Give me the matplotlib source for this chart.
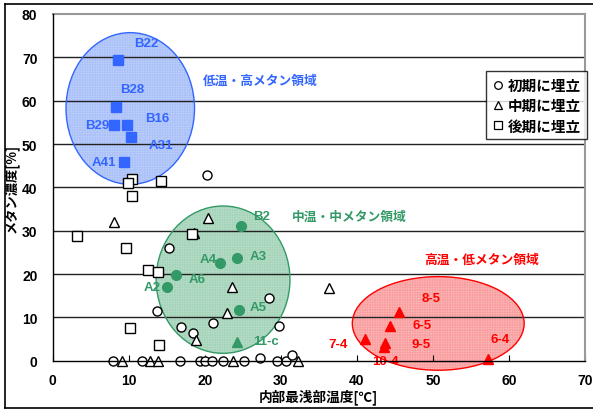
import matplotlib
matplotlib.use("Agg")
import matplotlib.pyplot as plt
from matplotlib.patches import Ellipse
from matplotlib.lines import Line2D

# ---------------- data ----------------
early_x = [20.3, 15.3, 28.5, 13.7, 21.1, 29.8, 16.9, 18.4, 7.9, 11.7, 16.8, 19.4, 20.0, 20.9, 22.4, 25.1, 27.2, 29.5, 30.7, 31.5]
early_y = [42.8, 26.1, 14.4, 11.4, 8.7, 8.1, 7.7, 6.5, 0, 0, 0, 0, 0, 0, 0, 0, 0.6, 0, 0, 1.3]

mid_x = [8.1, 20.4, 18.6, 23.6, 36.3, 22.9, 18.8, 9.1, 12.8, 13.9, 23.7, 32.3]
mid_y = [32.0, 33.0, 29.4, 17.1, 16.7, 10.9, 4.8, 0, 0, 0, 0, 0]

late_x = [10.4, 9.9, 14.3, 10.4, 3.2, 9.6, 18.3, 12.5, 13.9, 10.2, 14.0]
late_y = [41.9, 40.9, 41.5, 38.0, 28.8, 26.1, 29.2, 20.9, 20.4, 7.5, 3.7]

blue_names = ["B22", "B28", "B29", "B16", "A31", "A41"]
blue_x = [8.6, 8.3, 8.1, 9.8, 10.3, 9.4]
blue_y = [69.3, 58.6, 54.5, 54.4, 51.6, 45.9]

green_names = ["B2", "A3", "A4", "A6", "A2", "A5"]
green_x = [24.7, 24.2, 22.0, 16.2, 15.0, 24.5]
green_y = [31.1, 23.7, 22.5, 19.7, 16.9, 11.8]

green_tri_names = ["11-c"]
green_tri_x = [24.3]
green_tri_y = [4.2]

red_names = ["8-5", "6-5", "7-4", "9-5", "10-4", "6-4"]
red_x = [45.5, 44.4, 41.1, 43.7, 43.6, 57.2]
red_y = [11.3, 8.1, 5.0, 4.1, 3.1, 0.5]

legend_labels = ["初期に埋立", "中期に埋立", "後期に埋立"]
region_labels = ["低温・高メタン領域", "中温・中メタン領域", "高温・低メタン領域"]
x_ticks = [0, 10, 20, 30, 40, 50, 60, 70]
y_ticks = [0, 10, 20, 30, 40, 50, 60, 70, 80]
x_label = "内部最浅部温度[℃]"
y_label = "メタン濃度[%]"

# label anchor positions (data coords), text centred
blue_lbl = [(12.3, 73.4), (10.5, 62.6), (5.8, 54.3), (13.7, 55.9), (14.2, 49.7), (6.8, 45.9)]
green_lbl = [(27.5, 33.4), (27.0, 24.2), (20.4, 23.4), (19.0, 18.8), (13.1, 17.1), (27.0, 12.4)]
green_tri_lbl = [(28.1, 4.6)]
red_lbl = [(49.8, 14.4), (48.6, 8.2), (37.5, 3.8), (48.5, 3.8), (43.7, 0.0), (58.8, 5.0)]
region_pos = [(19.8, 64.7, "left"), (31.5, 33.4, "left"), (56.4, 23.3, "center")]

# ellipses: (cx, cy, w, h)
ell_blue = (10.2, 58.2, 16.9, 35.0)
ell_green = (22.4, 18.7, 17.6, 34.0)
ell_red = (50.7, 8.6, 22.6, 21.6)

BLUE = "#3366ff"
GREEN = "#339966"
RED = "#ff0000"

LAT = ["Liberation Sans", "Noto Sans CJK JP", "DejaVu Sans"]
JP = ["Noto Sans CJK JP", "DejaVu Sans"]

plt.rcParams["hatch.linewidth"] = 0.5

fig = plt.figure(figsize=(5.93, 4.14), dpi=100)
ax = fig.add_axes([52.7 / 593, 1 - 361.7 / 414, (585 - 52.7) / 593, (361.7 - 15) / 414])
ax.set_xlim(0, 70)
ax.set_ylim(0, 80)

# gridlines
for yv in y_ticks[1:-1]:
    ax.axhline(yv, color="#222222", lw=1.0, zorder=1.5)

# ellipses
def draw_ell(e, edge, face):
    cx, cy, w, h = e
    ax.add_patch(Ellipse((cx, cy), w, h, facecolor=face, edgecolor="none", zorder=1, clip_on=False))
    ax.add_patch(Ellipse((cx, cy), w, h, facecolor="none", edgecolor=edge, hatch="++++++++++",
                         lw=0, alpha=0.18, zorder=1.1, clip_on=False))
    ax.add_patch(Ellipse((cx, cy), w, h, facecolor="none", edgecolor=edge, lw=1.0, zorder=1.6, clip_on=False))

draw_ell(ell_blue, BLUE, "#c6d6f9")
draw_ell(ell_green, GREEN, "#c0e2ce")
draw_ell(ell_red, RED, "#fac3c3")

# open markers
ax.plot(early_x, early_y, ls="none", marker="o", ms=6.5, mfc="white", mec="black", mew=1.0, zorder=3, clip_on=False)
ax.plot(mid_x, mid_y, ls="none", marker="^", ms=7, mfc="white", mec="black", mew=1.0, zorder=3, clip_on=False)
ax.plot(late_x, late_y, ls="none", marker="s", ms=6.5, mfc="white", mec="black", mew=1.0, zorder=3, clip_on=False)

# filled markers
ax.plot(blue_x, blue_y, ls="none", marker="s", ms=7, mfc=BLUE, mec=BLUE, zorder=4)
ax.plot(green_x, green_y, ls="none", marker="o", ms=7, mfc=GREEN, mec=GREEN, zorder=4)
ax.plot(green_tri_x, green_tri_y, ls="none", marker="^", ms=7.5, mfc=GREEN, mec=GREEN, zorder=4)
ax.plot(red_x, red_y, ls="none", marker="^", ms=7.5, mfc=RED, mec=RED, zorder=4, clip_on=False)

lbl_kw = dict(fontsize=9.5, fontweight="bold", family=LAT, ha="center", va="center", zorder=5)
for n, (lx, ly) in zip(blue_names, blue_lbl):
    ax.text(lx, ly, n, color=BLUE, **lbl_kw)
for n, (lx, ly) in zip(green_names, green_lbl):
    ax.text(lx, ly, n, color=GREEN, **lbl_kw)
for n, (lx, ly) in zip(green_tri_names, green_tri_lbl):
    ax.text(lx, ly, n, color=GREEN, **lbl_kw)
for n, (lx, ly) in zip(red_names, red_lbl):
    ax.text(lx, ly, n, color=RED, clip_on=False, **lbl_kw)

for txt, (rx, ry, ha), c in zip(region_labels, region_pos, [BLUE, GREEN, RED]):
    ax.text(rx, ry, txt, color=c, fontsize=9.2, fontweight="bold", family=JP, ha=ha, va="center", zorder=5)

# axes styling
ax.set_xticks(x_ticks)
ax.set_yticks(y_ticks)
ax.tick_params(axis="x", direction="in", length=4, width=0.8, pad=9, labelsize=10)
ax.tick_params(axis="y", length=0, pad=11, labelsize=10)
for lab in ax.get_xticklabels() + ax.get_yticklabels():
    lab.set_fontfamily(LAT)
    lab.set_fontweight("bold")
for s in ["left", "bottom"]:
    ax.spines[s].set_color("black")
    ax.spines[s].set_linewidth(1.0)
for s in ["top", "right"]:
    ax.spines[s].set_color("#999999")
    ax.spines[s].set_linewidth(1.5)
ax.spines["left"].set_zorder(6)
ax.spines["bottom"].set_zorder(6)

ax.set_xlabel(x_label, fontsize=9.8, fontweight="bold", family=JP, labelpad=1)
ax.set_ylabel(y_label, fontsize=9.5, fontweight="bold", family=JP, labelpad=2)

# legend
handles = [Line2D([], [], ls="none", marker=m, ms=5.5, mfc="white", mec="black", mew=0.9) for m in ["o", "^", "s"]]
leg = ax.legend(handles, legend_labels, loc="upper right", bbox_to_anchor=(587 / 593, 1 - 72 / 414),
                bbox_transform=fig.transFigure, frameon=True, fancybox=False, edgecolor="black",
                handlelength=0.8, handletextpad=0.3, borderpad=0.4, labelspacing=0.3, borderaxespad=0,
                prop={"family": JP, "weight": "bold", "size": 10.5})
leg.get_frame().set_linewidth(1.0)
leg.set_zorder(10)

# figure border
fig.add_artist(Line2D([4.5 / 593, 4.5 / 593], [1 - 4.5 / 414, 1 - 409 / 414], color="black", lw=1.2, transform=fig.transFigure))
fig.add_artist(Line2D([4.5 / 593, 1.0], [1 - 4.5 / 414, 1 - 4.5 / 414], color="black", lw=1.2, transform=fig.transFigure))
fig.add_artist(Line2D([4.5 / 593, 1.0], [1 - 409 / 414, 1 - 409 / 414], color="black", lw=1.2, transform=fig.transFigure))

fig.savefig("out.png", dpi=100)
